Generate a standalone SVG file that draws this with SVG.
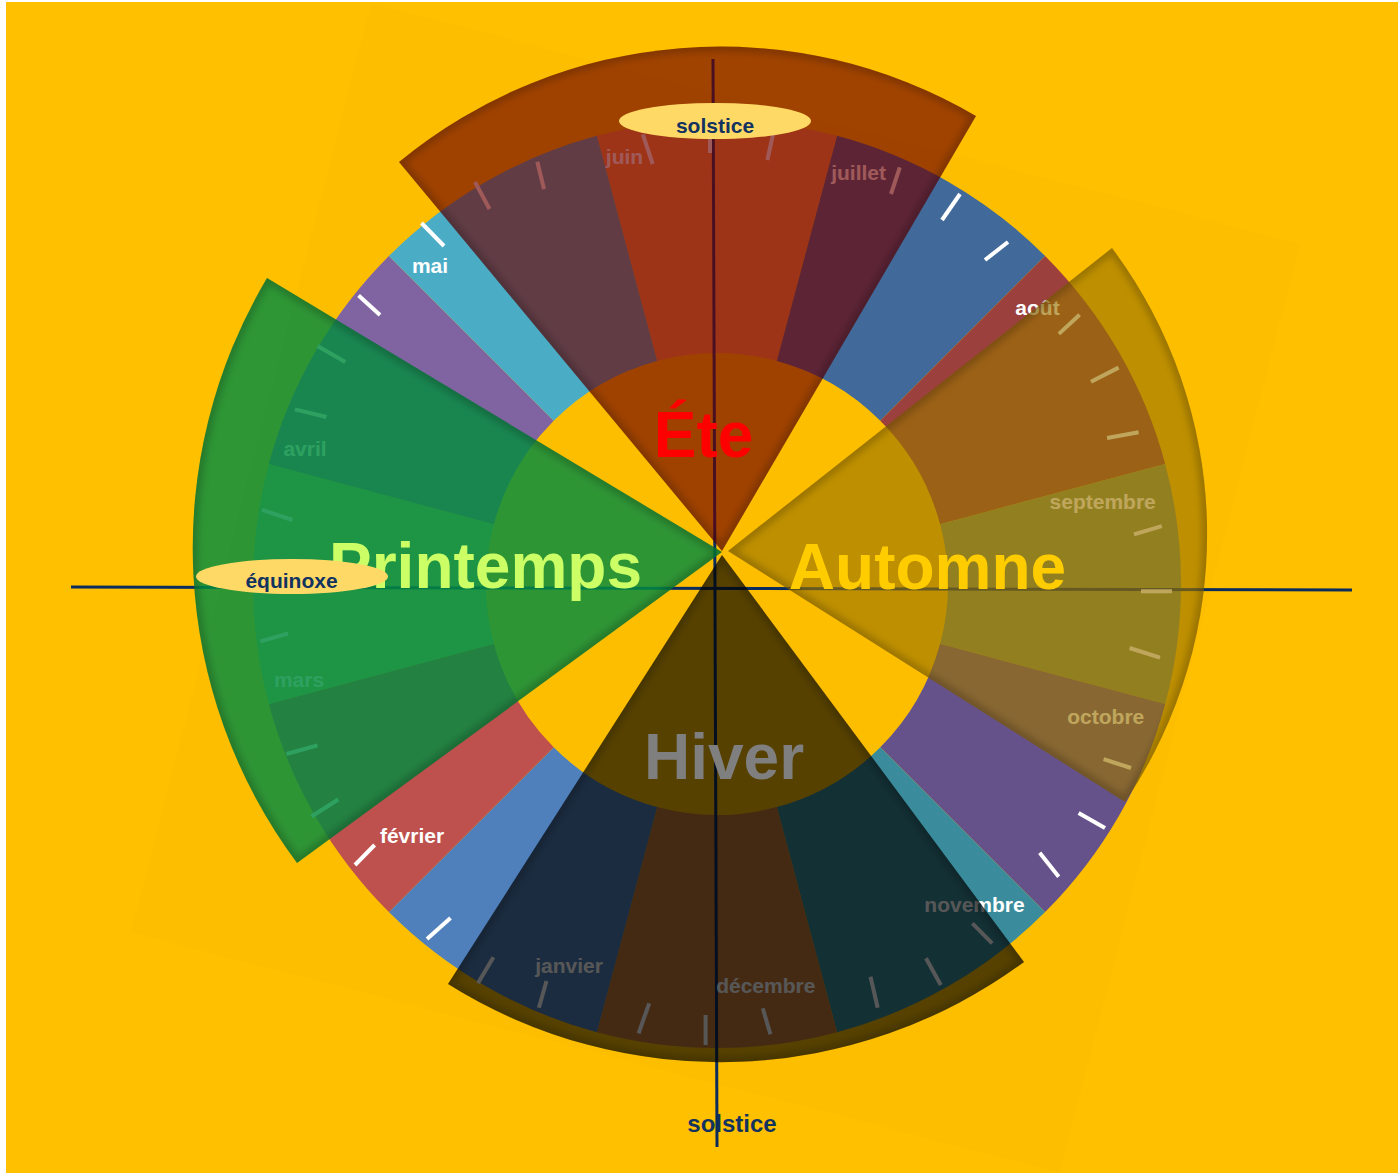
<svg xmlns="http://www.w3.org/2000/svg" width="1398" height="1175" viewBox="0 0 1398 1175">
<defs>
<style>
.m{stroke:none}
.tk{stroke:#fff;stroke-width:4;stroke-linecap:butt}
.lb{font-family:"Liberation Sans",Arial,sans-serif;font-weight:bold;font-size:21px;fill:#fff;text-anchor:middle}
.ss{font-family:"Liberation Sans",Arial,sans-serif;font-weight:bold;font-size:64px;text-anchor:middle}
.nt{font-family:"Liberation Sans",Arial,sans-serif;font-weight:bold;fill:#12325F;text-anchor:middle}
.ax{stroke:#0B2D5E;stroke-width:3}
.sh{fill:none;stroke:#000;stroke-opacity:0.2;stroke-width:10}
</style>
<filter id="blur" x="-10%" y="-10%" width="120%" height="120%"><feGaussianBlur stdDeviation="3.5"/></filter>
<clipPath id="cE"><path d="M722 551 L399 162 A505 505 0 0 1 976 116 Z"/></clipPath>
<clipPath id="cP"><path d="M722 552 L297 863 A528 528 0 0 1 267 278 Z"/></clipPath>
<clipPath id="cA"><path d="M728 551 L1112 248 A478 478 0 0 1 1125 802 Z"/></clipPath>
<clipPath id="cH"><path d="M722 555 L1024 962 A512 512 0 0 1 448 984 Z"/></clipPath>
</defs>
<rect x="0" y="0" width="1398" height="1175" fill="#fff"/>
<rect x="6" y="2" width="1392" height="1171" fill="#FFC000"/>
<rect x="235.5" y="108" width="960" height="960" fill="#000" opacity="0.006" transform="rotate(14.5 715.5 588)"/>

<g id="months">
<path class="m" fill="#F79646" d="M596.9 135.8 A464 464 0 0 1 837.1 135.8 L776.8 360.9 A231 231 0 0 0 657.2 360.9 Z"/>
<path class="m" fill="#41699A" d="M837.1 135.8 A464 464 0 0 1 1045.1 255.9 L880.3 420.7 A231 231 0 0 0 776.8 360.9 Z"/>
<path class="m" fill="#9B403D" d="M1045.1 255.9 A464 464 0 0 1 1165.2 463.9 L940.1 524.2 A231 231 0 0 0 880.3 420.7 Z"/>
<path class="m" fill="#829659" d="M1165.2 463.9 A464 464 0 0 1 1165.2 704.1 L940.1 643.8 A231 231 0 0 0 940.1 524.2 Z"/>
<path class="m" fill="#66528A" d="M1165.2 704.1 A464 464 0 0 1 1045.1 912.1 L880.3 747.3 A231 231 0 0 0 940.1 643.8 Z"/>
<path class="m" fill="#3A8C9C" d="M1045.1 912.1 A464 464 0 0 1 837.1 1032.2 L776.8 807.1 A231 231 0 0 0 880.3 747.3 Z"/>
<path class="m" fill="#CB7B3A" d="M837.1 1032.2 A464 464 0 0 1 596.9 1032.2 L657.2 807.1 A231 231 0 0 0 776.8 807.1 Z"/>
<path class="m" fill="#4F80BB" d="M596.9 1032.2 A464 464 0 0 1 388.9 912.1 L553.7 747.3 A231 231 0 0 0 657.2 807.1 Z"/>
<path class="m" fill="#BE504D" d="M388.9 912.1 A464 464 0 0 1 268.8 704.1 L493.9 643.8 A231 231 0 0 0 553.7 747.3 Z"/>
<path class="m" fill="#9BBB59" d="M268.8 704.1 A464 464 0 0 1 268.8 463.9 L493.9 524.2 A231 231 0 0 0 493.9 643.8 Z"/>
<path class="m" fill="#8064A2" d="M268.8 463.9 A464 464 0 0 1 388.9 255.9 L553.7 420.7 A231 231 0 0 0 493.9 524.2 Z"/>
<path class="m" fill="#4BACC6" d="M388.9 255.9 A464 464 0 0 1 596.9 135.8 L657.2 360.9 A231 231 0 0 0 553.7 420.7 Z"/>
</g>

<text class="nt" x="732" y="1132" font-size="24">solstice</text>

<g id="connectors">
<line class="ax" x1="713" y1="59" x2="717" y2="1147"/>
<line class="ax" x1="71" y1="587" x2="1352" y2="590"/>
</g>

<g id="ticks">
<line class="tk" x1="475" y1="182" x2="489.5" y2="209"/>
<line class="tk" x1="537.3" y1="161.7" x2="544" y2="189"/>
<line class="tk" x1="642.8" y1="134.3" x2="652.7" y2="164"/>
<line class="tk" x1="710" y1="128" x2="710" y2="153"/>
<line class="tk" x1="773.3" y1="133" x2="767.4" y2="160"/>
<line class="tk" x1="899.8" y1="167.3" x2="891" y2="194"/>
<line class="tk" x1="960" y1="194" x2="942" y2="220"/>
<line class="tk" x1="1008" y1="242" x2="985" y2="260"/>
<line class="tk" x1="421.5" y1="223" x2="444" y2="246"/>
<line class="tk" x1="358.6" y1="295.6" x2="380" y2="315"/>
<line class="tk" x1="317.5" y1="346" x2="345.4" y2="362"/>
<line class="tk" x1="295" y1="409.4" x2="326.4" y2="417"/>
<line class="tk" x1="262" y1="509.8" x2="292.5" y2="520"/>
<line class="tk" x1="260.4" y1="641.4" x2="288.2" y2="633.5"/>
<line class="tk" x1="286.4" y1="754" x2="317.5" y2="745.4"/>
<line class="tk" x1="311.4" y1="816.5" x2="338.2" y2="799.5"/>
<line class="tk" x1="355" y1="865" x2="374.6" y2="845"/>
<line class="tk" x1="427" y1="939" x2="450.5" y2="918"/>
<line class="tk" x1="477.9" y1="983.3" x2="493.4" y2="957.3"/>
<line class="tk" x1="538.9" y1="1007.7" x2="546.5" y2="981"/>
<line class="tk" x1="638.6" y1="1033.3" x2="649.2" y2="1003.3"/>
<line class="tk" x1="705.6" y1="1045" x2="705.6" y2="1015"/>
<line class="tk" x1="770.4" y1="1034.3" x2="762.8" y2="1008.3"/>
<line class="tk" x1="877.7" y1="1007.7" x2="870.5" y2="976.7"/>
<line class="tk" x1="940.8" y1="985" x2="926" y2="958.3"/>
<line class="tk" x1="992.2" y1="943.3" x2="972.4" y2="923.3"/>
<line class="tk" x1="1039.7" y1="852.7" x2="1058.7" y2="876.7"/>
<line class="tk" x1="1078.6" y1="813" x2="1105" y2="828"/>
<line class="tk" x1="1058.9" y1="333.9" x2="1079.6" y2="314.7"/>
<line class="tk" x1="1091" y1="381.8" x2="1118.6" y2="367.6"/>
<line class="tk" x1="1107.1" y1="438" x2="1138.6" y2="432.3"/>
<line class="tk" x1="1134" y1="534.3" x2="1161.8" y2="526.2"/>
<line class="tk" x1="1141" y1="591.3" x2="1172" y2="591.3"/>
<line class="tk" x1="1129.6" y1="648" x2="1160" y2="657.6"/>
<line class="tk" x1="1103.6" y1="759.2" x2="1131" y2="768"/>
</g>

<g id="month-labels">
<text class="lb" x="624.5" y="164">juin</text>
<text class="lb" x="858.6" y="180">juillet</text>
<text class="lb" x="1037.5" y="314.7">août</text>
<text class="lb" x="1102.7" y="509">septembre</text>
<text class="lb" x="1105.8" y="723.5">octobre</text>
<text class="lb" x="974.5" y="911.7">novembre</text>
<text class="lb" x="765.8" y="993">décembre</text>
<text class="lb" x="569" y="973.3">janvier</text>
<text class="lb" x="412" y="843">février</text>
<text class="lb" x="299" y="687">mars</text>
<text class="lb" x="305" y="455.6">avril</text>
<text class="lb" x="430" y="272.7">mai</text>
</g>

<g id="ete">
<path fill="#6D0000" opacity="0.65" d="M722 551 L399 162 A505 505 0 0 1 976 116 Z"/>
<g clip-path="url(#cE)"><path class="sh" filter="url(#blur)" d="M722 551 L399 162 A505 505 0 0 1 976 116 Z"/></g>
</g>
<g id="printemps">
<path fill="#048D40" opacity="0.83" d="M722 552 L297 863 A528 528 0 0 1 267 278 Z"/>
<g clip-path="url(#cP)"><path class="sh" filter="url(#blur)" d="M722 552 L297 863 A528 528 0 0 1 267 278 Z"/></g>
</g>
<g id="automne">
<path fill="#9B7400" opacity="0.64" d="M728 551 L1112 248 A478 478 0 0 1 1125 802 Z"/>
<g clip-path="url(#cA)"><path class="sh" filter="url(#blur)" d="M728 551 L1112 248 A478 478 0 0 1 1125 802 Z"/></g>
</g>
<g id="hiver">
<path fill="#000000" opacity="0.66" d="M722 555 L1024 962 A512 512 0 0 1 448 984 Z"/>
<g clip-path="url(#cH)"><path class="sh" filter="url(#blur)" d="M722 555 L1024 962 A512 512 0 0 1 448 984 Z"/></g>
</g>

<g id="season-titles">
<text class="ss" x="703.5" y="457" fill="#FF0000">Éte</text>
<text class="ss" x="485.5" y="588" fill="#CCFF66">Printemps</text>
<text class="ss" x="927.5" y="589" fill="#FFCC00">Automne</text>
<text class="ss" x="724" y="779" fill="#7F7F7F">Hiver</text>
</g>

<g id="solstice-top">
<ellipse cx="715" cy="121" rx="96" ry="18" fill="#FFD966"/>
<text class="nt" x="715" y="133" font-size="21">solstice</text>
</g>
<g id="equinoxe">
<ellipse cx="292" cy="576.5" rx="96" ry="17.5" fill="#FFD966"/>
<text class="nt" x="291.5" y="588" font-size="21">équinoxe</text>
</g>
</svg>
